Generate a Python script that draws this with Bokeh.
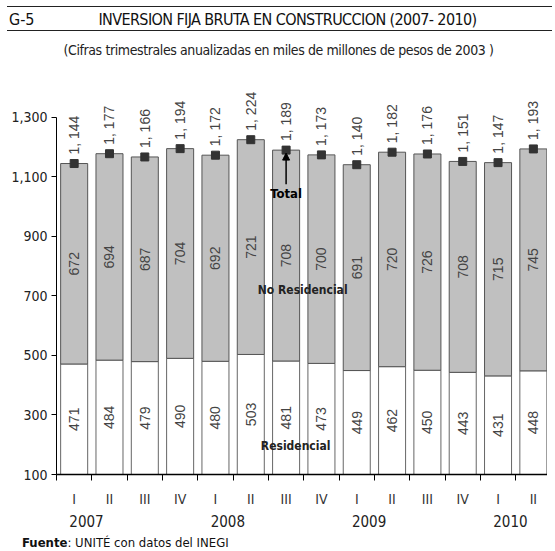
from math import pi
from bokeh.plotting import figure
from bokeh.models import (Range1d, FixedTicker, LinearAxis, NumeralTickFormatter,
                          ColumnDataSource, Arrow, NormalHead, Label, Div)
from bokeh.layouts import column
from bokeh.core.properties import value
from bokeh.embed import file_html
from bokeh.resources import INLINE

# ---------------- data ----------------
quarters = ["I", "II", "III", "IV", "I", "II", "III", "IV", "I", "II", "III", "IV", "I", "II"]
years = ["2007", "2008", "2009", "2010"]
year_first_index = [0, 4, 8, 12]
residencial = [471, 484, 479, 490, 480, 503, 481, 473, 449, 462, 450, 443, 431, 448]
no_residencial = [672, 694, 687, 704, 692, 721, 708, 700, 691, 720, 726, 708, 715, 745]
total = [1144, 1177, 1166, 1194, 1172, 1224, 1189, 1173, 1140, 1182, 1176, 1151, 1147, 1193]
y_ticks = [100, 300, 500, 700, 900, 1100, 1300]

NARROW = "DejaVu Sans Condensed"
REG = "Liberation Sans"

n = len(quarters)
centers = [i + 0.5 for i in range(n)]
y0 = y_ticks[0]

src = ColumnDataSource(dict(
    x=centers,
    res=residencial,
    nores=no_residencial,
    tot=total,
    res_mid=[(y0 + r) / 2 for r in residencial],
    nores_mid=[(r + t) / 2 for r, t in zip(residencial, total)],
    res_lbl=[str(v) for v in residencial],
    nores_lbl=[str(v) for v in no_residencial],
    tot_lbl=[f"{v:,}".replace(",", ", ") for v in total],
))

p = figure(width=547, height=456, output_backend="svg", toolbar_location=None,
           x_range=Range1d(0, 13.9), y_range=Range1d(100, 1416),
           min_border_left=56, min_border_right=0, min_border_top=8, min_border_bottom=56)
p.outline_line_color = None
p.grid.visible = False
p.background_fill_color = "white"

# bars
p.vbar(x="x", bottom=0, top="res", width=0.765, source=src,
       fill_color="white", line_color="#666666", line_width=1)
p.vbar(x="x", bottom="res", top="tot", width=0.765, source=src,
       fill_color="#c0c0c0", line_color="#555555", line_width=1)
p.scatter(x="x", y="tot", source=src, marker="square", size=8,
          fill_color="#333333", line_color="#333333")

# value labels
for ycol, tcol in (("res_mid", "res_lbl"), ("nores_mid", "nores_lbl")):
    p.text(x="x", y=ycol, text=tcol, source=src, angle=pi / 2,
           text_align="center", text_baseline="middle", text_font=value(REG),
           text_font_size="14px", text_color="#444444")
p.text(x="x", y="tot", text="tot_lbl", source=src, angle=pi / 2, y_offset=-9,
       text_align="left", text_baseline="middle", text_font=value(REG),
       text_font_size="14px", text_color="#444444")

# annotations
k = 6
p.add_layout(Arrow(end=NormalHead(size=7, fill_color="black", line_color="black"),
                   x_start=centers[k], y_start=total[k] - 115,
                   x_end=centers[k], y_end=total[k] - 10,
                   line_color="black", line_width=1.5))
p.add_layout(Label(x=centers[k], y=total[k] - 120, text="Total", text_align="center",
                   text_baseline="top", text_font=NARROW, text_font_size="13px",
                   text_color="black", text_font_style="bold"))
p.add_layout(Label(x=6.97, y=720, text="No Residencial", text_align="center",
                   text_baseline="middle", text_font=NARROW, text_font_size="12px",
                   text_color="#222222", text_font_style="bold"))
p.add_layout(Label(x=6.77, y=196, text="Residencial", text_align="center",
                   text_baseline="middle", text_font=NARROW, text_font_size="12px",
                   text_color="#222222", text_font_style="bold"))

# y axis
ya = p.yaxis[0]
ya.ticker = FixedTicker(ticks=y_ticks)
ya.formatter = NumeralTickFormatter(format="0,0")
ya.bounds = (y_ticks[0], y_ticks[-1])
ya.major_tick_out = 5
ya.major_tick_in = 0
ya.minor_tick_line_color = None
ya.axis_line_color = "black"
ya.major_tick_line_color = "black"
ya.major_label_text_font = NARROW
ya.major_label_text_font_size = "14px"
ya.major_label_text_color = "#222222"
ya.major_label_standoff = 4

# x axis: boundary ticks
xa = p.xaxis[0]
xa.ticker = FixedTicker(ticks=list(range(n)))
xa.major_label_overrides = {i: "" for i in range(n)}
xa.major_label_text_font_size = "1px"
xa.major_label_standoff = 0
xa.major_tick_out = 6
xa.major_tick_in = 0
xa.minor_tick_line_color = None
xa.axis_line_color = "black"
xa.major_tick_line_color = "black"
xa.axis_line_width = 1.5

# quarter labels
qa = LinearAxis(ticker=FixedTicker(ticks=centers),
                major_label_overrides={c: q for c, q in zip(centers, quarters)})
qa.axis_line_color = None
qa.major_tick_line_color = None
qa.minor_tick_line_color = None
qa.major_tick_out = 0
qa.major_label_standoff = 10
qa.major_label_text_font = NARROW
qa.major_label_text_font_size = "14px"
qa.major_label_text_color = "#333333"
p.add_layout(qa, "below")

# year labels
ypos = [centers[i] + 0.35 for i in year_first_index]
yra = LinearAxis(ticker=FixedTicker(ticks=ypos),
                 major_label_overrides={c: y for c, y in zip(ypos, years)})
yra.axis_line_color = None
yra.major_tick_line_color = None
yra.minor_tick_line_color = None
yra.major_tick_out = 0
yra.major_label_standoff = 5
yra.major_label_text_font = NARROW
yra.major_label_text_font_size = "15px"
yra.major_label_text_color = "#222222"
p.add_layout(yra, "below")

title_html = f"""
<div style="position:relative;width:547px;height:64px;font-family:'{NARROW}','{REG}',sans-serif;color:#111;">
  <div style="position:absolute;left:2px;top:1px;width:545px;height:25px;border-top:1.5px solid #222;border-bottom:1.5px solid #222;"></div>
  <div style="position:absolute;left:4px;top:5px;font-size:16px;line-height:20px;">G-5</div>
  <div style="position:absolute;left:22px;width:521px;top:5px;text-align:center;font-size:16px;line-height:20px;letter-spacing:-0.6px;">INVERSION FIJA BRUTA EN CONSTRUCCION (2007- 2010)</div>
  <div style="position:absolute;left:0px;width:547px;top:36px;text-align:center;font-size:14px;line-height:18px;color:#222;letter-spacing:-0.4px;">(Cifras trimestrales anualizadas en miles de millones de pesos de 2003 )</div>
</div>
"""
title_div = Div(text=title_html, width=547, height=64)

fuente_div = Div(text=f"""<div style="font-family:'{NARROW}',sans-serif;font-size:13px;line-height:14px;color:#111;padding-left:17px;white-space:nowrap;"><b>Fuente</b>: UNITÉ con datos del INEGI</div>""",
                 width=547, height=15)

layout = column(title_div, p, fuente_div, spacing=0)

open("out.html", "w").write(file_html(layout, INLINE))
